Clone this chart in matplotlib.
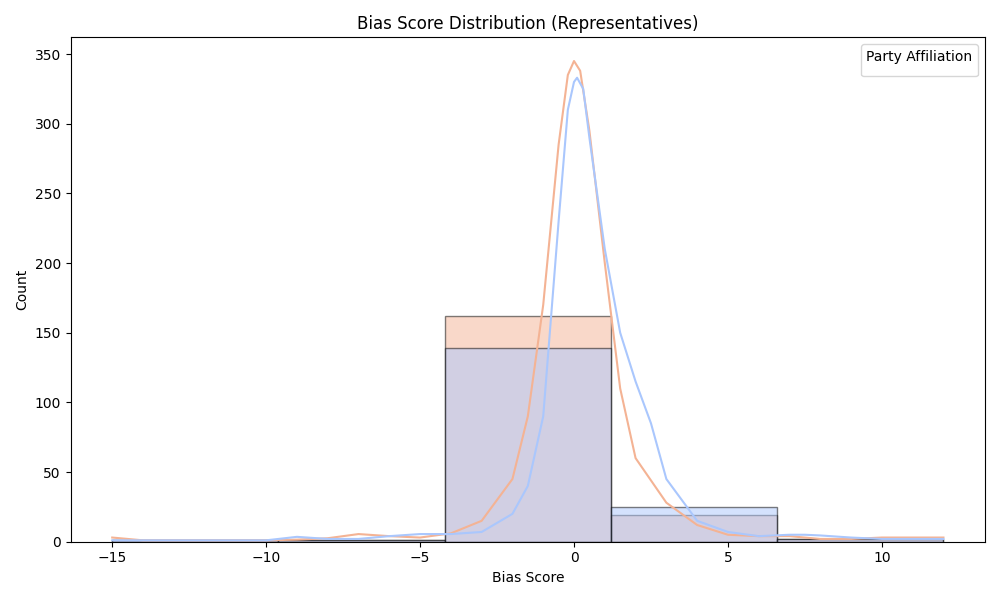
import numpy as np
import matplotlib
matplotlib.use("Agg")
import matplotlib.pyplot as plt

# histogram (5 bins)
bin_edges = [-15, -9.6, -4.2, 1.2, 6.6, 12]
counts_orange = [1, 1, 162, 19, 2]
counts_blue = [1, 1, 139, 25, 2]

# kde curves
kde_orange_x = [-15, -14, -12, -10, -9, -8, -7, -6, -5, -4, -3, -2, -1.5, -1, -0.5, -0.2, 0, 0.2, 0.5, 1, 1.5, 2, 3, 4, 5, 6, 7, 8, 9, 10, 12]
kde_orange_y = [3, 1, 1, 1, 1.5, 2.5, 5.5, 4, 3, 6, 15, 45, 90, 170, 285, 335, 345, 338, 295, 200, 110, 60, 28, 12, 5, 4, 4, 2, 2, 3, 3]
kde_blue_x = [-15, -12, -10, -9, -8, -7, -6, -5, -4, -3, -2, -1.5, -1, -0.5, -0.2, 0, 0.1, 0.3, 0.5, 1, 1.5, 2, 2.5, 3, 4, 5, 6, 7, 7.5, 8, 9, 10, 12]
kde_blue_y = [1, 1, 1, 3.5, 2, 2, 4, 5.5, 5.5, 7, 20, 40, 90, 230, 310, 330, 333, 325, 290, 210, 150, 115, 85, 45, 15, 7, 4, 5, 5, 4.5, 3, 2, 2]

c_orange = "#f4b394"
c_blue = "#aac7fd"

fig, ax = plt.subplots(figsize=(10, 6))
lefts = bin_edges[:-1]
widths = np.diff(bin_edges)
ax.bar(lefts, counts_orange, width=widths, align="edge", color=c_orange, alpha=0.5, edgecolor="black")
ax.bar(lefts, counts_blue, width=widths, align="edge", color=c_blue, alpha=0.5, edgecolor="black")
ax.plot(kde_orange_x, kde_orange_y, color=c_orange, lw=1.5)
ax.plot(kde_blue_x, kde_blue_y, color=c_blue, lw=1.5)

ax.set_title("Bias Score Distribution (Representatives)")
ax.set_xlabel("Bias Score")
ax.set_ylabel("Count")
ax.set_ylim(0, 362)
ax.legend(handles=[], title="Party Affiliation", loc="upper right")
plt.tight_layout()
plt.savefig("out.png", dpi=100)
